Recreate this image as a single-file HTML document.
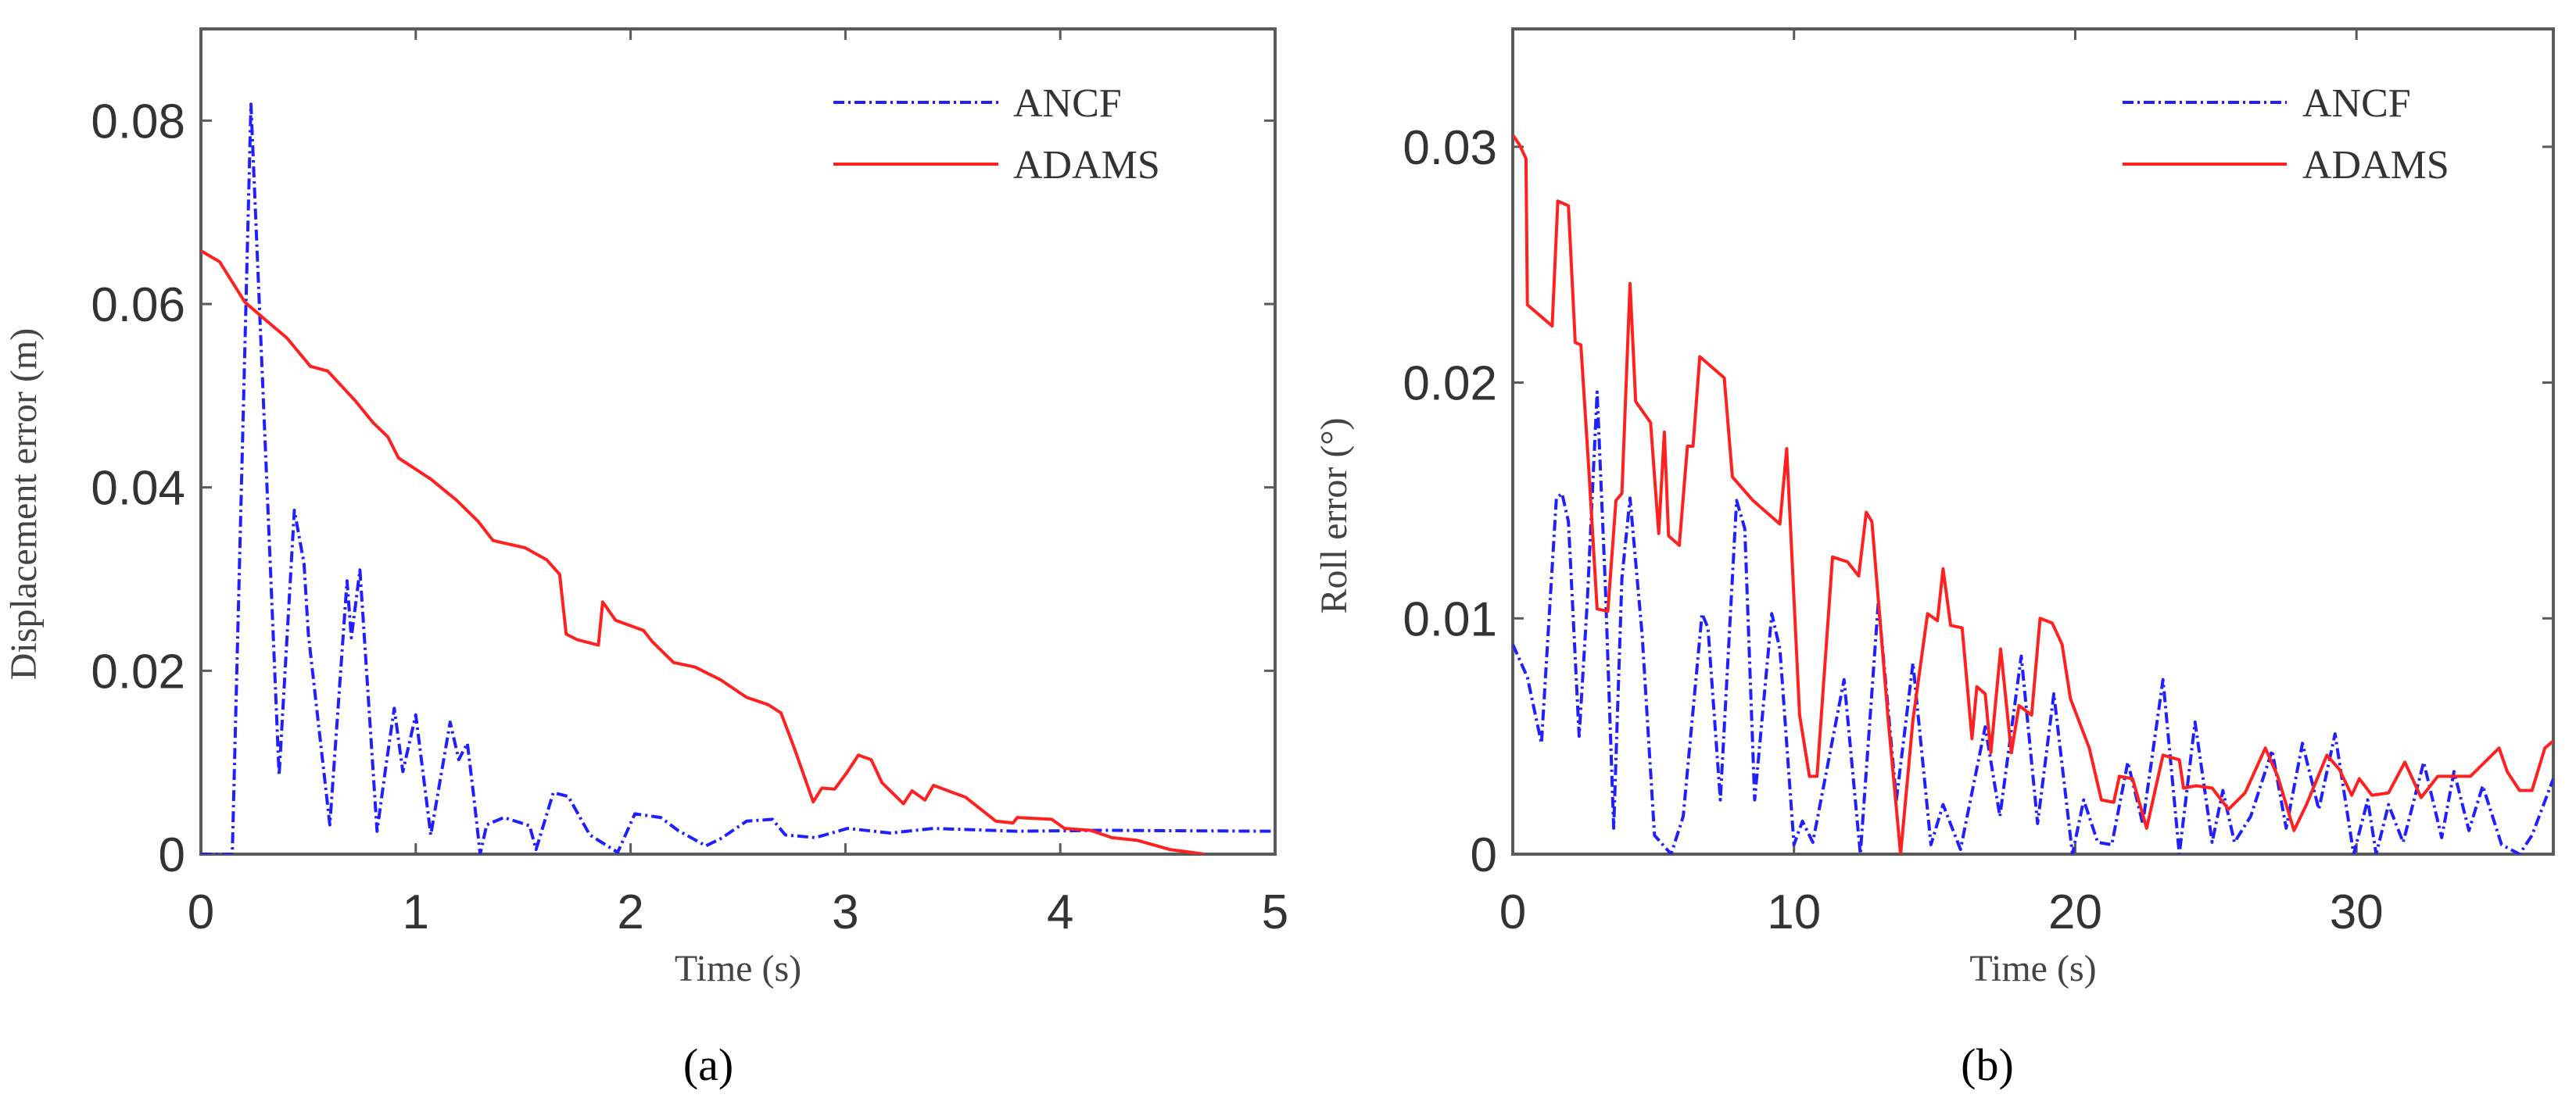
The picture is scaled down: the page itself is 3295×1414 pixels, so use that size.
<!DOCTYPE html>
<html><head><meta charset="utf-8"><style>
html,body{margin:0;padding:0;background:#fff;}
svg{display:block;}
</style></head><body>
<svg id="fig" width="3295" height="1414" viewBox="0 0 3295 1414" xmlns="http://www.w3.org/2000/svg"></svg>
<script>
// ---- Chart (a) data ----
const aAdamsT = [0,0.087,0.205,0.304,0.40,0.51,0.59,0.72,0.80,0.87,0.92,1.07,1.19,1.29,1.36,1.51,1.61,1.67,1.70,1.75,1.85,1.87,1.93,2.06,2.10,2.20,2.30,2.42,2.54,2.64,2.70,2.76,2.85,2.89,2.95,3.01,3.06,3.12,3.17,3.27,3.31,3.37,3.41,3.56,3.70,3.78,3.80,3.96,4.02,4.14,4.24,4.36,4.51,4.67];
const aAdamsV = [0.0658,0.0646,0.0602,0.0582,0.0563,0.0532,0.0527,0.0494,0.0471,0.0455,0.0432,0.0409,0.0386,0.0363,0.0342,0.0334,0.0321,0.0305,0.024,0.0234,0.0228,0.0275,0.0255,0.0244,0.0232,0.0209,0.0204,0.019,0.0171,0.0163,0.0154,0.0117,0.0057,0.0072,0.0071,0.009,0.0108,0.0103,0.0078,0.0055,0.0069,0.0059,0.0075,0.0062,0.0036,0.0034,0.004,0.0038,0.0028,0.0026,0.0018,0.0015,0.0005,0.0];
const aAncfT = [0,0.146,0.233,0.364,0.435,0.48,0.50,0.60,0.68,0.70,0.74,0.82,0.86,0.90,0.94,1.0,1.07,1.16,1.20,1.24,1.27,1.30,1.33,1.41,1.53,1.56,1.64,1.71,1.81,1.94,2.02,2.14,2.22,2.35,2.42,2.54,2.66,2.72,2.86,3.01,3.21,3.41,3.80,4.20,4.99];
const aAncfV = [0,0,0.0818,0.0086,0.0375,0.0317,0.024,0.0032,0.0298,0.0236,0.031,0.0025,0.0094,0.0159,0.009,0.0152,0.0021,0.0144,0.0103,0.0121,0.0063,0,0.0032,0.004,0.0031,0.0005,0.0067,0.0063,0.0021,0.0002,0.0044,0.004,0.0026,0.0009,0.0017,0.0036,0.0038,0.0021,0.0018,0.0028,0.0023,0.0028,0.0025,0.0026,0.0025];
const aXTicks = [0,1,2,3,4,5];
const aYTicks = [0,0.02,0.04,0.06,0.08];
const aYLabels = ["0","0.02","0.04","0.06","0.08"];
// ---- Chart (b) data ----
const bAdamsT = [0,0.23,0.47,0.52,1.40,1.60,1.98,2.22,2.42,2.71,3.0,3.38,3.67,3.88,4.17,4.37,4.90,5.19,5.39,5.54,5.92,6.21,6.41,6.65,7.52,7.81,8.54,9.50,9.74,10.2,10.55,10.82,11.37,11.9,12.3,12.57,12.77,13.35,13.79,14.23,14.75,15.1,15.3,15.57,15.98,16.33,16.5,16.8,17.0,17.35,17.73,18.0,18.45,18.75,19.18,19.53,19.83,20.5,20.93,21.37,21.57,22.04,22.54,23.12,23.7,23.85,24.3,24.87,25.45,26.04,26.76,27.2,27.78,28.22,28.95,29.39,29.83,30.1,30.55,31.14,31.72,32.3,32.89,34.05,35.07,35.36,35.8,36.24,36.7,37.0];
const bAdamsV = [0.0305,0.0301,0.0295,0.0233,0.0224,0.0277,0.0275,0.0217,0.0216,0.0162,0.0104,0.0103,0.015,0.0153,0.0242,0.0192,0.0183,0.0136,0.0179,0.0135,0.0131,0.0173,0.0173,0.0211,0.0202,0.016,0.015,0.014,0.0172,0.0059,0.0033,0.0033,0.0126,0.0124,0.0118,0.0145,0.0141,0.0057,0.0,0.0057,0.0102,0.0099,0.0121,0.0097,0.0096,0.0049,0.0071,0.0068,0.0043,0.0087,0.0043,0.0063,0.0059,0.01,0.0098,0.0089,0.0066,0.0045,0.0023,0.0022,0.0033,0.0032,0.0011,0.0042,0.004,0.0028,0.0029,0.0028,0.0019,0.0026,0.0045,0.0033,0.001,0.0021,0.0042,0.0036,0.0025,0.0032,0.0025,0.0026,0.0039,0.0024,0.0033,0.0033,0.0045,0.0035,0.0027,0.0027,0.0045,0.0048];
const bAncfT = [0,0.52,1.02,1.55,1.75,1.98,2.36,2.65,3.0,3.29,3.59,3.88,4.17,4.6,5.04,5.63,6.06,6.73,6.94,7.38,7.96,8.25,8.6,9.21,9.5,10.0,10.3,10.67,11.78,12.36,13.0,13.64,14.23,14.87,15.3,15.92,16.8,17.32,18.08,18.66,19.24,19.9,20.3,20.8,21.3,21.87,22.4,23.12,23.7,24.26,24.87,25.25,25.66,26.24,27.0,27.5,28.08,28.66,29.24,29.9,30.4,30.7,31.14,31.66,32.39,33.03,33.47,34.0,34.49,35.16,35.8,36.24,37.0];
const bAncfV = [0.0089,0.0075,0.0047,0.0151,0.0153,0.0141,0.005,0.0107,0.0196,0.0114,0.0011,0.0117,0.0151,0.0093,0.0008,0,0.0016,0.0102,0.0096,0.0023,0.015,0.0138,0.0023,0.0102,0.0087,0.0004,0.0014,0.0005,0.0074,0,0.0107,0.0023,0.0081,0.0004,0.0021,0.0002,0.0054,0.0016,0.0084,0.0013,0.0068,0,0.0023,0.0005,0.0004,0.0039,0.0013,0.0074,0,0.0056,0.0005,0.0027,0.0005,0.0016,0.0044,0.0011,0.0047,0.0019,0.0051,0,0.0023,0,0.0021,0.0005,0.0039,0.0007,0.0035,0.001,0.0029,0.0004,0,0.0008,0.0032];
const bXTicks = [0,10,20,30];
const bYTicks = [0,0.01,0.02,0.03];
const bYLabels = ["0","0.01","0.02","0.03"];

const NS = "http://www.w3.org/2000/svg";
const svg = document.getElementById('fig');
function mk(tag, attrs, parent, text){
  const e = document.createElementNS(NS, tag);
  for (const k in attrs) e.setAttribute(k, attrs[k]);
  if (text !== undefined) e.textContent = text;
  (parent||svg).appendChild(e);
  return e;
}

function drawChart(cfg){
  const g = mk('g', {});
  
  
  const X = v => cfg.x0 + (v - cfg.xmin)/(cfg.xmax - cfg.xmin)*(cfg.x1 - cfg.x0);
  const Y = v => cfg.y1 - (v - 0)/(cfg.ymax)*(cfg.y1 - cfg.y0);
  const cid = cfg.name + '-clip';
  const defs = mk('defs', {}, g);
  const cp = mk('clipPath', {id: cid}, defs);
  mk('rect', {x: cfg.x0, y: cfg.y0-4, width: cfg.x1-cfg.x0, height: cfg.y1-cfg.y0+4}, cp);
  const box = mk('rect', {x: cfg.x0, y: cfg.y0, width: cfg.x1-cfg.x0, height: cfg.y1-cfg.y0, fill: 'none', stroke: '#5a5a5a', 'stroke-width': 4}, g);
  
  
  cfg.xticks.forEach(t => {
    const x = X(t);
    mk('line', {x1: x, x2: x, y1: cfg.y1, y2: cfg.y1-14, stroke: '#5a5a5a', 'stroke-width': 3}, g);
    mk('line', {x1: x, x2: x, y1: cfg.y0, y2: cfg.y0+14, stroke: '#5a5a5a', 'stroke-width': 3}, g);
    const tl = mk('text', {x: x, y: cfg.y1+95, 'text-anchor': 'middle', 'font-family': 'Liberation Sans, sans-serif', 'font-size': 62, fill: '#333'}, g, String(t));
    
    
  });
  cfg.yticks.forEach((t, i) => {
    const y = Y(t);
    mk('line', {x1: cfg.x0, x2: cfg.x0+14, y1: y, y2: y, stroke: '#5a5a5a', 'stroke-width': 3}, g);
    mk('line', {x1: cfg.x1, x2: cfg.x1-14, y1: y, y2: y, stroke: '#5a5a5a', 'stroke-width': 3}, g);
    const tl = mk('text', {x: cfg.x0-20, y: y+22, 'text-anchor': 'end', 'font-family': 'Liberation Sans, sans-serif', 'font-size': 62, fill: '#333'}, g, cfg.ylabels[i]);
    
    
  });
  const xt = mk('text', {x: (cfg.x0+cfg.x1)/2, y: 1255, 'text-anchor': 'middle', 'font-family': 'Liberation Serif, serif', 'font-size': 48, fill: '#444'}, g, 'Time (s)');
  
  
  const yt = mk('text', {x: 0, y: 0, 'text-anchor': 'middle', 'font-family': 'Liberation Serif, serif', 'font-size': 48, fill: '#444', transform: `translate(${cfg.ytx},${cfg.yty}) rotate(-90)`}, g, cfg.ytitle);
  
  
  const line = (ts, vs, color, dash, nm) => {
    const pts = ts.map((t, i) => X(t).toFixed(1) + ',' + Y(vs[i]).toFixed(1)).join(' ');
    const p = mk('polyline', {points: pts, fill: 'none', stroke: color, 'stroke-width': 4, 'stroke-dasharray': dash, 'clip-path': `url(#${cid})`, 'stroke-linejoin': 'round'}, g);
    
    
  };
  line(cfg.ancfT, cfg.ancfV, '#2020ff', '14,5,3,5', 'ancf-series');
  line(cfg.adamsT, cfg.adamsV, '#ff2020', 'none', 'adams-series');
  const lg = mk('g', {}, g);
  
  
  const l1 = mk('line', {x1: cfg.lx0, x2: cfg.lx1, y1: 131, y2: 131, stroke: '#2020ff', 'stroke-width': 4, 'stroke-dasharray': '14,5,3,5'}, lg);
  
  
  const t1 = mk('text', {x: cfg.ltx, y: 149, 'font-family': 'Liberation Serif, serif', 'font-size': 52, fill: '#333'}, lg, 'ANCF');
  
  
  const l2 = mk('line', {x1: cfg.lx0, x2: cfg.lx1, y1: 210, y2: 210, stroke: '#ff2020', 'stroke-width': 4}, lg);
  
  
  const t2 = mk('text', {x: cfg.ltx, y: 228, 'font-family': 'Liberation Serif, serif', 'font-size': 52, fill: '#333'}, lg, 'ADAMS');
  
  
  const cap = mk('text', {x: cfg.capx, y: 1382, 'text-anchor': 'middle', 'font-family': 'Liberation Serif, serif', 'font-size': 58, fill: '#000'}, g, cfg.caption);
  
  
}

drawChart({name: 'chart-a', x0: 257, x1: 1631, y0: 37, y1: 1093, xmin: 0, xmax: 5, ymax: 0.09,
  xticks: aXTicks, yticks: aYTicks, ylabels: aYLabels, ytitle: 'Displacement error (m)', ytx: 46, yty: 645,
  ancfT: aAncfT, ancfV: aAncfV, adamsT: aAdamsT, adamsV: aAdamsV,
  lx0: 1066, lx1: 1277, ltx: 1296, capx: 906, caption: '(a)'});
drawChart({name: 'chart-b', x0: 1935, x1: 3266, y0: 37, y1: 1093, xmin: 0, xmax: 37, ymax: 0.035,
  xticks: bXTicks, yticks: bYTicks, ylabels: bYLabels, ytitle: 'Roll error (°)', ytx: 1722, yty: 660,
  ancfT: bAncfT, ancfV: bAncfV, adamsT: bAdamsT, adamsV: bAdamsV,
  lx0: 2715, lx1: 2925, ltx: 2945, capx: 2542, caption: '(b)'});
</script>
</body></html>
